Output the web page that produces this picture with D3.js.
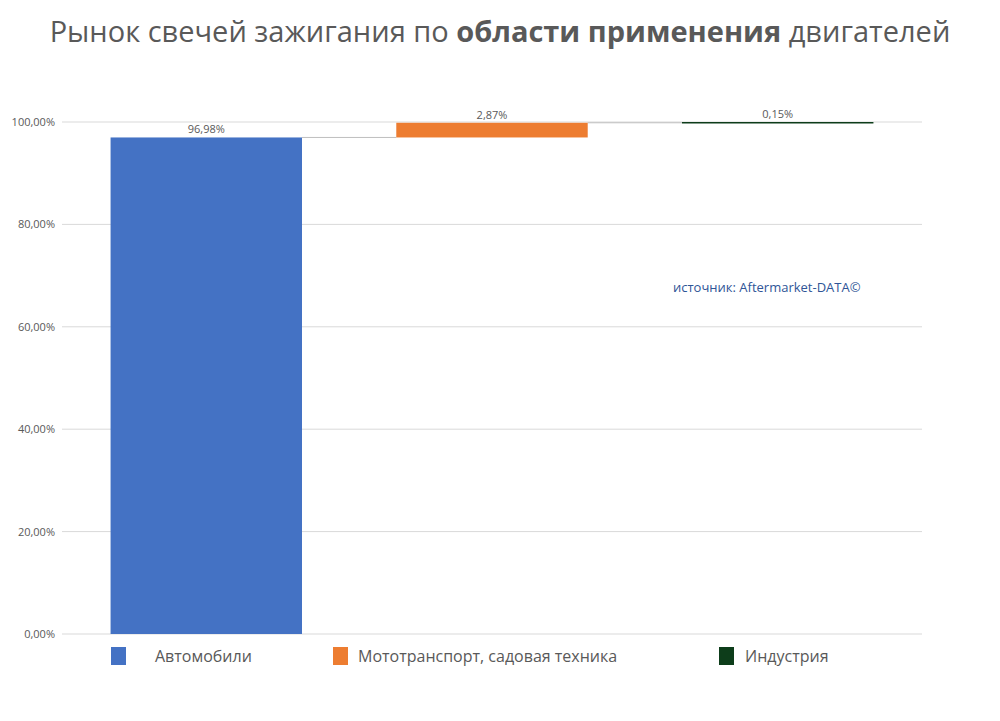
<!DOCTYPE html><html><head><meta charset="utf-8">
<script src="https://cdn.jsdelivr.net/npm/d3@7"></script>
<style>body{margin:0;background:#fff}svg{font-family:"Open Sans",sans-serif}</style></head><body>
<svg id="c" width="1000" height="721"></svg>
<script>
const categories=["Автомобили","Мототранспорт, садовая техника","Индустрия"];
const values=[96.98,2.87,0.15];
const labels=["96,98%","2,87%","0,15%"];
const colors=["#4472c4","#ed7d31","#0d3d1a"];
const yTicks=[0,20,40,60,80,100];
const svg=d3.select("#c");
const x=d3.scaleBand().domain(categories).range([62,922]).paddingInner(0.33).paddingOuter(0.17);
const y=d3.scaleLinear().domain([0,100]).range([634,122]);
svg.append("text").attr("x",500).attr("y",42).attr("text-anchor","middle").attr("font-size",29).attr("fill","#595959")
 .html('Рынок свечей зажигания по <tspan font-weight="bold">области применения</tspan> двигателей');
yTicks.forEach(t=>{svg.append("line").attr("x1",62).attr("x2",922).attr("y1",y(t)).attr("y2",y(t)).attr("stroke","#d9d9d9");
 svg.append("text").attr("x",55).attr("y",y(t)+4).attr("text-anchor","end").attr("font-size",11).attr("fill","#595959").text(t.toFixed(2).replace(".",",")+"%");});
let cum=0;const segs=values.map(v=>{const s={start:cum,end:cum+v};cum+=v;return s;});
// connectors
segs.forEach((s,i)=>{if(i<segs.length-1){svg.append("line").attr("x1",x(categories[i])+x.bandwidth()).attr("x2",x(categories[i+1])).attr("y1",y(s.end)).attr("y2",y(s.end)).attr("stroke","#bfbfbf");}});
segs.forEach((s,i)=>{const c=categories[i];const h=Math.max(1.5,y(s.start)-y(s.end));
 svg.append("rect").attr("x",x(c)).attr("width",x.bandwidth()).attr("y",y(s.end)).attr("height",h).attr("fill",colors[i]);
 svg.append("text").attr("x",x(c)+x.bandwidth()/2).attr("y",y(s.end)-4).attr("text-anchor","middle").attr("font-size",11).attr("fill","#595959").text(labels[i]);});
const lx=[111,333,719],tx=[155,358,745];
categories.forEach((c,i)=>{svg.append("rect").attr("x",lx[i]).attr("y",647).attr("width",15).attr("height",18).attr("fill",colors[i]);
 svg.append("text").attr("x",tx[i]).attr("y",662).attr("font-size",16).attr("fill","#595959").text(c);});
svg.append("text").attr("x",673).attr("y",292).attr("font-size",13).attr("fill","#2f5597").text("источник: Aftermarket-DATA©");
</script></body></html>
